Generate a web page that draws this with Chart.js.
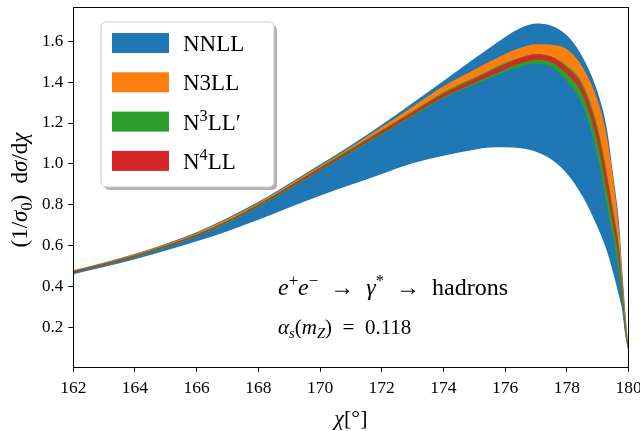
<!DOCTYPE html>
<html>
<head>
<meta charset="utf-8">
<script src="https://cdn.jsdelivr.net/npm/chart.js@4"></script>
<style>
  body { margin: 0; background: #fff; }
  #wrap { width: 640px; height: 431px; }
</style>
</head>
<body>
<div id="wrap"><canvas id="eecChart" width="640" height="431"></canvas></div>
<script>
// Valores (chi em graus)
const chi = [162, 163, 164, 165, 166, 167, 168, 169, 170, 171, 172, 173, 174, 175, 175.5, 176, 176.5, 177, 177.5, 178, 178.5, 179, 179.3, 179.5, 179.7, 179.8, 179.9, 180];

const nnllLow  = [0.462, 0.497, 0.535, 0.578, 0.623, 0.672, 0.727, 0.787, 0.845, 0.898, 0.951, 1.003, 1.040, 1.070, 1.080, 1.082, 1.077, 1.060, 1.022, 0.954, 0.845, 0.690, 0.575, 0.470, 0.350, 0.280, 0.160, 0.080];
const nnllHigh = [0.481, 0.519, 0.562, 0.611, 0.667, 0.736, 0.815, 0.905, 0.997, 1.092, 1.192, 1.298, 1.405, 1.515, 1.568, 1.620, 1.664, 1.686, 1.675, 1.628, 1.525, 1.350, 1.170, 0.950, 0.700, 0.475, 0.275, 0.102];

const n3llLow  = [0.469, 0.506, 0.547, 0.594, 0.648, 0.715, 0.793, 0.881, 0.970, 1.060, 1.149, 1.238, 1.327, 1.395, 1.429, 1.463, 1.492, 1.509, 1.497, 1.440, 1.340, 1.100, 0.865, 0.700, 0.515, 0.350, 0.188, 0.086];
const n3llHigh = [0.479, 0.517, 0.559, 0.607, 0.662, 0.731, 0.810, 0.899, 0.990, 1.083, 1.180, 1.280, 1.380, 1.460, 1.500, 1.537, 1.567, 1.585, 1.582, 1.560, 1.475, 1.310, 1.130, 0.930, 0.660, 0.450, 0.250, 0.100];

const n3pLow  = [0.467, 0.504, 0.545, 0.591, 0.645, 0.711, 0.789, 0.877, 0.966, 1.055, 1.144, 1.233, 1.321, 1.387, 1.418, 1.449, 1.475, 1.490, 1.474, 1.405, 1.290, 1.035, 0.795, 0.635, 0.455, 0.310, 0.170, 0.085];
const n3pHigh = [0.478, 0.515, 0.556, 0.603, 0.657, 0.724, 0.805, 0.893, 0.984, 1.075, 1.166, 1.258, 1.350, 1.422, 1.458, 1.494, 1.520, 1.537, 1.525, 1.480, 1.395, 1.180, 0.955, 0.780, 0.585, 0.405, 0.222, 0.096];

const n4Low  = [0.469, 0.506, 0.547, 0.594, 0.648, 0.715, 0.793, 0.881, 0.970, 1.060, 1.149, 1.238, 1.327, 1.395, 1.429, 1.463, 1.492, 1.509, 1.497, 1.440, 1.340, 1.100, 0.865, 0.700, 0.515, 0.350, 0.188, 0.086];
const n4High = [0.475, 0.512, 0.553, 0.600, 0.654, 0.721, 0.801, 0.889, 0.980, 1.070, 1.161, 1.252, 1.343, 1.415, 1.451, 1.487, 1.518, 1.535, 1.523, 1.470, 1.380, 1.160, 0.935, 0.760, 0.565, 0.390, 0.212, 0.094];

const xTicks = [162, 164, 166, 168, 170, 172, 174, 176, 178, 180];
const yTicks = [0.2, 0.4, 0.6, 0.8, 1.0, 1.2, 1.4, 1.6];

const bands = [
  { label: 'NNLL', low: nnllLow, high: nnllHigh, color: '#1f77b4', order: 4 },
  { label: 'N3LL', low: n3llLow, high: n3llHigh, color: '#ff7f0e', order: 3 },
  { label: 'N3LL\'', low: n3pLow, high: n3pHigh, color: '#2ca02c', order: 2 },
  { label: 'N4LL', low: n4Low, high: n4High, color: '#d62728', order: 1 }
];

const serif = '"Liberation Serif", "DejaVu Serif", serif';

function pts(arr) {
  return arr.map((v, i) => ({ x: chi[i], y: v }));
}

const datasets = [];
bands.forEach(b => {
  datasets.push({ data: pts(b.low), borderWidth: 0, pointRadius: 0, fill: false, order: b.order,
    backgroundColor: b.color, cubicInterpolationMode: 'monotone' });
  datasets.push({ data: pts(b.high), borderWidth: 0, pointRadius: 0, fill: '-1', order: b.order,
    backgroundColor: b.color, cubicInterpolationMode: 'monotone' });
});

// texto com sobrescrito / subscrito
function richFont(p, size) {
  const s = (p.sup || p.sub) ? size * 0.7 : size;
  return (p.i ? 'italic ' : '') + s + 'px ' + serif;
}
function richWidth(ctx, parts, size) {
  let w = 0;
  parts.forEach(p => { ctx.font = richFont(p, size); w += ctx.measureText(p.t).width; });
  return w;
}
function drawRich(ctx, x, y, parts, size) {
  parts.forEach(p => {
    ctx.font = richFont(p, size);
    const dy = p.sup ? -size * 0.38 : (p.sub ? size * 0.2 : 0);
    ctx.fillText(p.t, x, y + dy);
    x += ctx.measureText(p.t).width;
  });
}

const sp = '\u2002';

const extras = {
  id: 'extras',
  afterDatasetsDraw(chart) {
    const ctx = chart.ctx;
    const a = chart.chartArea;
    ctx.save();
    // moldura
    ctx.strokeStyle = '#000';
    ctx.lineWidth = 1;
    ctx.strokeRect(Math.round(a.left) + 0.5, Math.round(a.top) + 0.5,
      Math.round(a.right - a.left), Math.round(a.bottom - a.top));

    // legenda
    const lx = 101, ly = 22, lw = 173, lh = 165;
    ctx.fillStyle = 'rgba(0,0,0,0.3)';
    ctx.beginPath(); ctx.roundRect(lx + 3, ly + 3, lw, lh, 5); ctx.fill();
    ctx.fillStyle = '#fff';
    ctx.strokeStyle = '#cccccc';
    ctx.beginPath(); ctx.roundRect(lx, ly, lw, lh, 5); ctx.fill(); ctx.stroke();

    const names = [
      [{ t: 'NNLL' }],
      [{ t: 'N3LL' }],
      [{ t: 'N' }, { t: '3', sup: true }, { t: 'LL\u2032' }],
      [{ t: 'N' }, { t: '4', sup: true }, { t: 'LL' }]
    ];
    ctx.textBaseline = 'alphabetic';
    bands.forEach((b, i) => {
      const cy = 43 + i * 39.3;
      ctx.fillStyle = b.color;
      ctx.fillRect(112, cy - 10, 57, 20);
      ctx.fillStyle = '#000';
      drawRich(ctx, 183, cy + 8, names[i], 23);
    });

    // anotações
    ctx.fillStyle = '#000';
    drawRich(ctx, 278, 295, [
      { t: 'e', i: true }, { t: '+', sup: true }, { t: 'e', i: true }, { t: '\u2212', sup: true },
      { t: sp + '\u2192' + sp }, { t: '\u03b3', i: true }, { t: '*', sup: true }, { t: sp + '\u2192' + sp + 'hadrons' }
    ], 24);
    drawRich(ctx, 278, 334, [
      { t: '\u03b1', i: true }, { t: 's', i: true, sub: true }, { t: '(' }, { t: 'm', i: true },
      { t: 'Z', i: true, sub: true }, { t: ')' }, { t: sp + '=' + sp + '0.118' }
    ], 21);

    // título do eixo x
    const xt = [{ t: '\u03c7', i: true }, { t: '[\u00b0]' }];
    const cx = (a.left + a.right) / 2;
    drawRich(ctx, cx - richWidth(ctx, xt, 22) / 2, 425, xt, 22);

    // título do eixo y (rotacionado)
    const yt = [{ t: '(1/' }, { t: '\u03c3', i: true }, { t: '0', sub: true }, { t: ')' + sp + 'd' },
      { t: '\u03c3', i: true }, { t: '/d' }, { t: '\u03c7', i: true }];
    ctx.translate(20, 190);
    ctx.rotate(-Math.PI / 2);
    drawRich(ctx, -richWidth(ctx, yt, 23) / 2, 7, yt, 23);
    ctx.restore();
  }
};

const ctx = document.getElementById('eecChart').getContext('2d');
const eecChart = new Chart(ctx, {
  type: 'line',
  data: { datasets: datasets },
  plugins: [extras],
  options: {
    responsive: false,
    animation: false,
    layout: { padding: { left: 0, right: 11.5, top: 6.7, bottom: 0 } },
    plugins: { legend: { display: false }, tooltip: { enabled: false } },
    scales: {
      x: {
        type: 'linear', min: 162, max: 180,
        afterBuildTicks: s => { s.ticks = xTicks.map(v => ({ value: v })); },
        afterFit: s => { s.height = 64.3; s.paddingLeft = 0; s.paddingRight = 0; },
        grid: { drawOnChartArea: false, drawTicks: true, tickLength: 5, color: '#000' },
        border: { display: false },
        ticks: { color: '#000', padding: 6, maxRotation: 0, font: { family: serif, size: 17.5 } },
        title: { display: false }
      },
      y: {
        type: 'linear', min: 0.01, max: 1.768,
        afterBuildTicks: s => { s.ticks = yTicks.map(v => ({ value: v })); },
        afterFit: s => { s.width = 73.3; s.paddingTop = 0; s.paddingBottom = 0; },
        grid: { drawOnChartArea: false, drawTicks: true, tickLength: 5, color: '#000' },
        border: { display: false },
        ticks: { color: '#000', padding: 5, font: { family: serif, size: 17 },
          callback: v => v.toFixed(1) },
        title: { display: false }
      }
    }
  }
});
</script>
</body>
</html>
